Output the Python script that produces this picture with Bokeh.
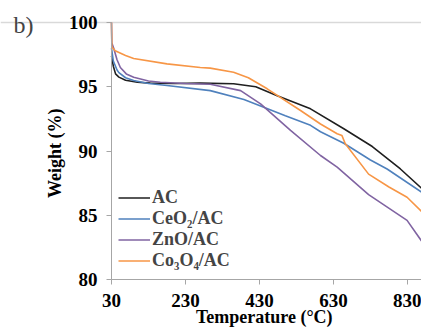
from bokeh.plotting import figure
from bokeh.models import Range1d, FixedTicker, Legend, LegendItem, Label
from bokeh.embed import file_html
from bokeh.resources import INLINE

# Data
ac_temp = [30, 35, 41, 50, 68, 100, 135, 200, 270, 360, 420, 478, 568, 658, 735, 811, 868]
ac_weight = [97.4, 96.6, 96.0, 95.75, 95.5, 95.35, 95.28, 95.25, 95.28, 95.23, 95.0, 94.3, 93.28, 91.73, 90.35, 88.6, 87.1]

ceo2_temp = [30, 35, 45, 50, 68, 90, 130, 180, 297, 388, 433, 500, 568, 595, 658, 730, 775, 868]
ceo2_weight = [98.0, 97.0, 96.3, 96.1, 95.7, 95.49, 95.25, 95.1, 94.7, 94.0, 93.5, 92.75, 92.0, 91.5, 90.6, 89.3, 88.6, 86.8]

zno_temp = [30, 31, 36, 45, 54, 70, 90, 130, 162, 230, 297, 379, 433, 514, 595, 640, 725, 829, 868]
zno_weight = [100, 98.4, 98.0, 97.1, 96.5, 96.0, 95.74, 95.45, 95.35, 95.25, 95.2, 94.7, 93.67, 91.6, 89.65, 88.74, 86.6, 84.6, 83.0]

co3o4_temp = [30, 31, 40, 68, 90, 180, 270, 297, 360, 400, 451, 541, 595, 640, 653, 662, 725, 780, 829, 868]
co3o4_weight = [100, 98.1, 97.8, 97.43, 97.2, 96.78, 96.5, 96.45, 96.13, 95.7, 94.84, 93.15, 92.1, 91.34, 91.2, 90.56, 88.2, 87.2, 86.4, 85.3]

series_names = ["AC", "CeO₂/AC", "ZnO/AC", "Co₃O₄/AC"]
series_colors = ["#1f1f1f", "#4f81bd", "#8064a2", "#f79646"]

x_ticks = [30, 230, 430, 630, 830]
y_ticks = [80, 85, 90, 95, 100]
x_min, x_max = 30, 868
y_min, y_max = 80, 100
panel_label = "b)"

FONT = "Liberation Serif"

# The frame covers the whole canvas; both axes are pinned at the data origin (30, 80)
# so that tick labels, titles and the panel label are not clipped by the frame.
p = figure(width=421, height=327, output_backend="svg", toolbar_location=None,
           x_range=Range1d(-270, x_max), y_range=Range1d(76.265, 101.712),
           min_border_left=0, min_border_right=0, min_border_top=0, min_border_bottom=0)
p.outline_line_color = None
p.background_fill_color = "white"
p.border_fill_color = "white"

renderers = []
for t, w, c in zip([ac_temp, ceo2_temp, zno_temp, co3o4_temp],
                   [ac_weight, ceo2_weight, zno_weight, co3o4_weight], series_colors):
    renderers.append(p.line(t, w, line_color=c, line_width=1.6))

# axes
p.xaxis.ticker = FixedTicker(ticks=x_ticks)
p.yaxis.ticker = FixedTicker(ticks=y_ticks)
p.xaxis.bounds = (x_min, x_max)
p.yaxis.bounds = (y_min, y_max)
p.xaxis.fixed_location = y_min
p.yaxis.fixed_location = x_min
for ax in (p.xaxis[0], p.yaxis[0]):
    ax.axis_line_color = "#a6a6a6"
    ax.major_tick_line_color = "#a6a6a6"
    ax.major_tick_out = 5
    ax.major_tick_in = 0
    ax.minor_tick_line_color = None
    ax.major_label_text_font = FONT
    ax.major_label_text_font_size = "19px"
    ax.major_label_text_font_style = "bold"
    ax.major_label_text_color = "black"
    ax.axis_label_text_font = FONT
    ax.axis_label_text_font_style = "bold"
    ax.axis_label_text_color = "black"
p.xaxis.axis_label_text_font_size = "18px"
p.yaxis.axis_label_text_font_size = "18px"
p.xaxis.axis_label = "Temperature  (°C)"
p.yaxis.axis_label = "Weight  (%)"
p.xaxis.major_label_standoff = 9
p.yaxis.major_label_standoff = 9
p.xaxis.axis_label_standoff = -3
p.yaxis.axis_label_standoff = 1

p.xgrid.grid_line_color = None
p.ygrid.ticker = FixedTicker(ticks=[y_max])
p.ygrid.bounds = (x_min, x_max)
p.ygrid.grid_line_color = "#d9d9d9"
p.ygrid.grid_line_width = 1.5

legend = Legend(items=[LegendItem(label=n, renderers=[r]) for n, r in zip(series_names, renderers)],
                location=(118, 56), padding=0, margin=0, spacing=0,
                glyph_width=32, glyph_height=21, label_height=21, label_standoff=2,
                label_text_font=FONT, label_text_font_size="18px", label_text_font_style="bold",
                border_line_color=None, background_fill_alpha=0)
p.add_layout(legend, "center")

p.add_layout(Label(x=-235, y=99.77, text=panel_label,
                   text_font=FONT, text_font_size="24px",
                   text_baseline="middle", text_align="left"))

open("out.html", "w").write(file_html(p, INLINE))
